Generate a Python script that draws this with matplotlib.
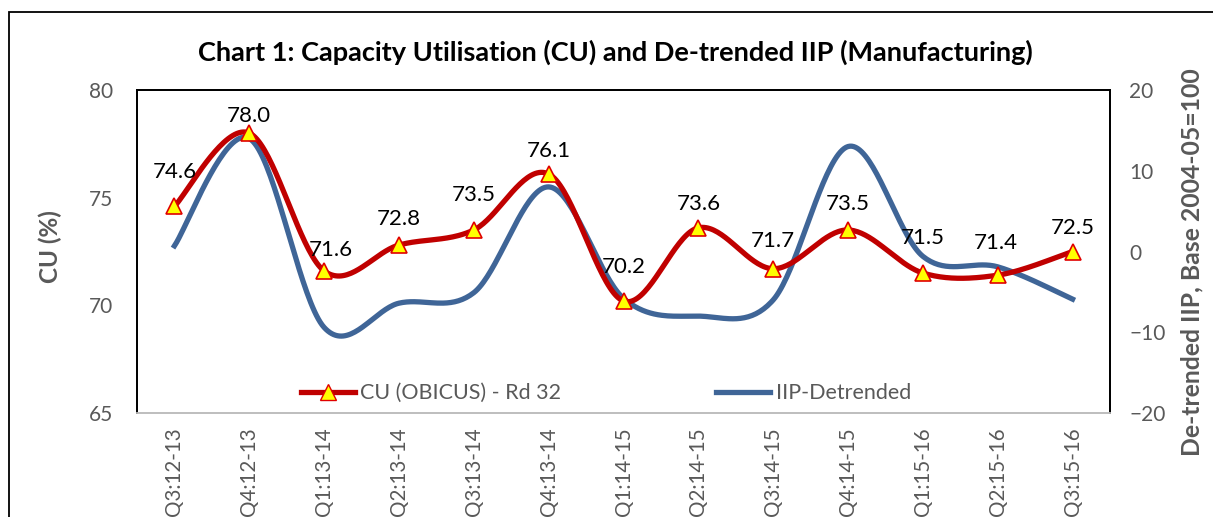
import numpy as np
import matplotlib
matplotlib.use("Agg")
import matplotlib.pyplot as plt
from matplotlib.patches import Rectangle

categories = ["Q3:12-13", "Q4:12-13", "Q1:13-14", "Q2:13-14", "Q3:13-14", "Q4:13-14",
              "Q1:14-15", "Q2:14-15", "Q3:14-15", "Q4:14-15", "Q1:15-16", "Q2:15-16", "Q3:15-16"]
cu_values = [74.6, 78.0, 71.6, 72.8, 73.5, 76.1, 70.2, 73.6, 71.7, 73.5, 71.5, 71.4, 72.5]
iip_values = [0.7, 14.0, -9.4, -6.4, -5.1, 8.0, -5.8, -8.0, -6.0, 13.0, -0.6, -1.9, -5.9]

# data-label placement (pixel offsets of the label centre from its point)
label_dx = [0, 0, 7, 0, 0, 0, 0, 0, 0, 0, 0, -2, 0]
label_dy = [34, 17, 21, 26, 35, 23, 34, 24, 28, 26, 35, 32, 24]

FONT = ["Lato", "DejaVu Sans"]
plt.rcParams['font.family'] = FONT
GRAY = "#595959"


def smooth(x, y, n=40):
    """Catmull-Rom style Bezier smoothing (like Excel's smoothed line)."""
    x = np.asarray(x, float)
    y = np.asarray(y, float)
    px = np.concatenate([[x[0]], x, [x[-1]]])
    py = np.concatenate([[y[0]], y, [y[-1]]])
    xs, ys = [], []
    t = np.linspace(0, 1, n)
    for i in range(1, len(px) - 2):
        p0 = np.array([px[i], py[i]])
        p3 = np.array([px[i + 1], py[i + 1]])
        c1 = p0 + (np.array([px[i + 1], py[i + 1]]) - np.array([px[i - 1], py[i - 1]])) / 6
        c2 = p3 - (np.array([px[i + 2], py[i + 2]]) - np.array([px[i], py[i]])) / 6
        b = ((1 - t) ** 3)[:, None] * p0 + (3 * (1 - t) ** 2 * t)[:, None] * c1 \
            + (3 * (1 - t) * t ** 2)[:, None] * c2 + (t ** 3)[:, None] * p3
        xs.append(b[:, 0])
        ys.append(b[:, 1])
    return np.concatenate(xs), np.concatenate(ys)


fig = plt.figure(figsize=(12.13, 5.17), dpi=100)
fig.patches.append(Rectangle((9 / 1213, -0.05), 1.1, 1.05 - 12 / 517,
                             transform=fig.transFigure, fill=False, edgecolor="black",
                             linewidth=1.3))
ax = fig.add_axes([137 / 1213, 1 - 413 / 517, 973 / 1213, 323 / 517])
ax2 = ax.twinx()

x = np.arange(len(categories))

sx, sy = smooth(x, cu_values)
ax.plot(sx, sy, color="#C00000", linewidth=3.8, zorder=3)
ax.plot(x, cu_values, linestyle="none", marker="^", markersize=11,
        markerfacecolor="#FFFF00", markeredgecolor="#E00000", markeredgewidth=1.2, zorder=4)
cu_handle = ax.plot([], [], color="#C00000", linewidth=3.8, marker="^", markersize=11,
                    markerfacecolor="#FFFF00", markeredgecolor="#E00000")[0]

bx, by = smooth(x, iip_values)
ax2.plot(bx, by, color="#3F6597", linewidth=3.8, zorder=2)
iip_handle = ax2.plot([], [], color="#3F6597", linewidth=3.8)[0]

for xi, v, dx, dy in zip(x, cu_values, label_dx, label_dy):
    ax.annotate(f"{v:.1f}", (xi, v), xytext=(dx, dy), textcoords="offset pixels",
                ha="center", va="center", fontsize=16, color="black", zorder=5)

ax.set_zorder(ax2.get_zorder() + 1)
ax.patch.set_visible(False)

ax.set_xlim(-0.5, len(categories) - 0.5)
ax.set_ylim(65, 80)
ax.set_yticks([65, 70, 75, 80])
ax2.set_ylim(-20, 20)
ax2.set_yticks([-20, -10, 0, 10, 20])

ax.set_xticks(x)
ax.set_xticklabels(categories, rotation=90, fontsize=14.8, color=GRAY)
ax.tick_params(axis="x", length=0, pad=10)
ax.tick_params(axis="y", length=0, labelsize=15, colors=GRAY, pad=17)
ax2.tick_params(axis="y", length=0, labelsize=15, colors=GRAY, pad=14)

for a in (ax, ax2):
    for s in ("left", "top", "right"):
        a.spines[s].set_color("black")
        a.spines[s].set_linewidth(1.3)
    a.spines["bottom"].set_color("#BFBFBF")
    a.spines["bottom"].set_linewidth(1.3)

fig.text(50 / 1213, 1 - 247 / 517, "CU (%)", rotation=90, ha="center", va="center",
         fontsize=17.5, fontweight="bold", color=GRAY)
fig.text(1192 / 1213, 1 - 262 / 517, "De-trended IIP, Base 2004-05=100", rotation=90,
         ha="center", va="center", fontsize=17.8, fontweight="bold", color=GRAY)

fig.text(615 / 1213, 1 - 52 / 517, "Chart 1: Capacity Utilisation (CU) and De-trended IIP (Manufacturing)",
         ha="center", va="center", fontsize=19.5, fontweight="bold", color="black")

leg = ax.legend([cu_handle, iip_handle], ["CU (OBICUS) - Rd 32", "IIP-Detrended"],
                loc="lower center", bbox_to_anchor=(0.482, -0.03), ncol=2, frameon=False,
                fontsize=15.5, handlelength=2.5, columnspacing=7.2, handletextpad=0.25)
for t in leg.get_texts():
    t.set_color(GRAY)

fig.savefig("out.png", dpi=100)
